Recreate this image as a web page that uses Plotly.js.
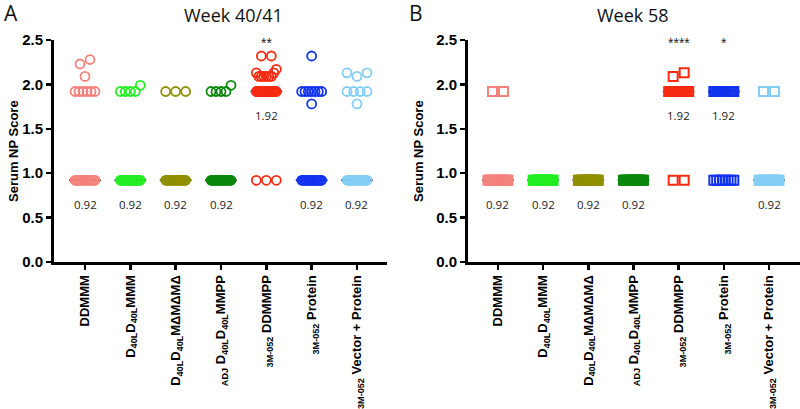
<!DOCTYPE html>
<html>
<head>
<meta charset="utf-8">
<script src="https://cdn.plot.ly/plotly-3.0.1.min.js"></script>
<style>html,body{margin:0;padding:0;background:#fff;}#chart{width:800px;height:409px;}</style>
</head>
<body>
<div id="chart"></div>
<script>
// ---------- data ----------
const categories = [
  'DDMMM',
  'D<sub>40L</sub>D<sub>40L</sub>MMM',
  'D<sub>40L</sub>D<sub>40L</sub>MΔMΔMΔ',
  '<sub>ADJ</sub> D<sub>40L</sub>D<sub>40L</sub>MMPP',
  '<sub>3M-052</sub> DDMMPP',
  '<sub>3M-052</sub> Protein',
  '<sub>3M-052</sub> Vector + Protein'
];
const groupColors = ['#F4827C', '#22EE22', '#8F8F00', '#0B870B', '#F52A10', '#1133EE', '#84CDF5'];

// Panel A: Week 40/41
const weekA_DDMMM = [0.92,0.92,0.92,0.92,0.92,0.92,0.92,0.92,0.92,0.92,0.92,0.92,0.92,0.92, 1.92,1.92,1.92,1.92,1.92,1.92, 2.09, 2.23, 2.28];
const weekA_D40LMMM = [0.92,0.92,0.92,0.92,0.92,0.92,0.92,0.92,0.92,0.92,0.92,0.92,0.92,0.92,0.92,0.92, 1.92,1.92,1.92,1.92, 1.99];
const weekA_D40LMdelta = [0.92,0.92,0.92,0.92,0.92,0.92,0.92,0.92,0.92,0.92,0.92,0.92,0.92,0.92,0.92,0.92, 1.92,1.92,1.92];
const weekA_ADJ = [0.92,0.92,0.92,0.92,0.92,0.92,0.92,0.92,0.92,0.92,0.92,0.92,0.92,0.92,0.92,0.92,0.92, 1.92,1.92,1.92,1.92, 1.99];
const weekA_DDMMPP = [0.92,0.92,0.92, 1.92,1.92,1.92,1.92,1.92,1.92,1.92,1.92,1.92,1.92,1.92,1.92,1.92,1.92,1.92,1.92,1.92,1.92, 2.09,2.09,2.09,2.09,2.09,2.09, 2.13,2.13, 2.17, 2.32,2.32];
const weekA_Protein = [0.92,0.92,0.92,0.92,0.92,0.92,0.92,0.92,0.92,0.92,0.92,0.92,0.92,0.92,0.92,0.92, 1.78, 1.92,1.92,1.92,1.92,1.92,1.92,1.92, 2.32];
const weekA_VectorProtein = [0.92,0.92,0.92,0.92,0.92,0.92,0.92,0.92,0.92,0.92,0.92,0.92,0.92,0.92,0.92, 1.78, 1.92,1.92,1.92,1.92, 2.09, 2.13,2.13];
const significanceA = ['', '', '', '', '**', '', ''];

// Panel B: Week 58
const weekB_DDMMM = [0.92,0.92,0.92,0.92,0.92,0.92,0.92,0.92,0.92,0.92,0.92,0.92,0.92,0.92,0.92, 1.92,1.92];
const weekB_D40LMMM = [0.92,0.92,0.92,0.92,0.92,0.92,0.92,0.92,0.92,0.92,0.92,0.92,0.92,0.92,0.92,0.92,0.92,0.92];
const weekB_D40LMdelta = [0.92,0.92,0.92,0.92,0.92,0.92,0.92,0.92,0.92,0.92,0.92,0.92,0.92,0.92,0.92,0.92];
const weekB_ADJ = [0.92,0.92,0.92,0.92,0.92,0.92,0.92,0.92,0.92,0.92,0.92,0.92,0.92,0.92,0.92,0.92,0.92,0.92];
const weekB_DDMMPP = [0.92,0.92, 1.92,1.92,1.92,1.92,1.92,1.92,1.92,1.92,1.92,1.92,1.92,1.92,1.92,1.92,1.92,1.92, 2.09, 2.13];
const weekB_Protein = [0.92,0.92,0.92,0.92,0.92,0.92,0.92,0.92, 1.92,1.92,1.92,1.92,1.92,1.92,1.92,1.92,1.92,1.92,1.92,1.92,1.92,1.92];
const weekB_VectorProtein = [0.92,0.92,0.92,0.92,0.92,0.92,0.92,0.92,0.92,0.92,0.92,0.92,0.92,0.92, 1.92,1.92];
const significanceB = ['', '', '', '', '****', '*', ''];

const groupsA = [weekA_DDMMM, weekA_D40LMMM, weekA_D40LMdelta, weekA_ADJ, weekA_DDMMPP, weekA_Protein, weekA_VectorProtein];
const groupsB = [weekB_DDMMM, weekB_D40LMMM, weekB_D40LMdelta, weekB_ADJ, weekB_DDMMPP, weekB_Protein, weekB_VectorProtein];

// ---------- layout geometry ----------
const W = 800, H = 409;
const domA = [54, 387], domB = [468, 800];
const rangeA = [-0.684, 6.662], rangeB = [-0.664, 6.686];
const yTopPx = 40, yBotPx = 262;
const yDomain = [(H - yBotPx) / H, (H - yTopPx) / H];
const unitA = (domA[1] - domA[0]) / (rangeA[1] - rangeA[0]);
const unitB = (domB[1] - domB[0]) / (rangeB[1] - rangeB[0]);

function median(arr) {
  const s = arr.slice().sort((a, b) => a - b);
  const n = s.length;
  return n % 2 ? s[(n - 1) / 2] : (s[n / 2 - 1] + s[n / 2]) / 2;
}

// scatter-dot spreading (pixel offsets) for points with similar values
function spreadOffsets(vals, spanPx, capPx) {
  const idx = vals.map((v, i) => i).sort((a, b) => vals[a] - vals[b]);
  const out = new Array(vals.length).fill(0);
  const clusters = [];
  let cur = [];
  idx.forEach((i, k) => {
    if (k > 0 && vals[i] - vals[idx[k - 1]] > 0.08) { clusters.push(cur); cur = []; }
    cur.push(i);
  });
  if (cur.length) clusters.push(cur);
  clusters.forEach(c => {
    const n = c.length;
    if (n === 1) { out[c[0]] = 0; return; }
    const s = Math.min(capPx, spanPx / (n - 1));
    const pos = [];
    if (n % 2) { pos.push(0); for (let j = 1; pos.length < n; j++) { pos.push(-j * s); if (pos.length < n) pos.push(j * s); } }
    else { for (let j = 0; pos.length < n; j++) { pos.push(-(j + 0.5) * s); if (pos.length < n) pos.push((j + 0.5) * s); } }
    c.forEach((i, k) => { out[i] = pos[k]; });
  });
  return out;
}

const traces = [];
const annotations = [];

function buildPanel(groups, sig, unitPx, xa, ya, symbol, msize, lw, cap) {
  groups.forEach((vals, g) => {
    const med = median(vals);
    traces.push({
      x: [g - 0.35, g + 0.35], y: [med, med], xaxis: xa, yaxis: ya,
      mode: 'lines', line: {color: '#000', width: 1.6}, hoverinfo: 'skip', cliponaxis: false
    });
    const offs = spreadOffsets(vals, 20, cap);
    traces.push({
      x: vals.map((v, i) => g + offs[i] / unitPx), y: vals, xaxis: xa, yaxis: ya,
      mode: 'markers', cliponaxis: false,
      marker: {symbol: symbol, size: msize, color: groupColors[g], line: {color: groupColors[g], width: lw}}
    });
    annotations.push({
      xref: xa, yref: ya, x: g, y: med, yshift: -24, xanchor: 'center', yanchor: 'middle',
      text: med.toFixed(2), showarrow: false,
      font: {family: 'Open Sans, Liberation Sans, sans-serif', size: 11.5, color: '#222'}
    });
    if (sig[g]) {
      annotations.push({
        xref: xa, yref: ya, x: g, y: 2.47, xanchor: 'center', yanchor: 'middle', text: sig[g], showarrow: false,
        font: {family: 'Liberation Sans, Arial, sans-serif', size: 14, color: '#222'}
      });
    }
  });
}

buildPanel(groupsA, significanceA, unitA, 'x', 'y', 'circle-open', 9, 1.8, 10);
buildPanel(groupsB, significanceB, unitB, 'x2', 'y2', 'square-open', 9, 2, 11);

function paperText(xpx, ypx, text, font, angle) {
  annotations.push({xref: 'paper', yref: 'paper', x: xpx / W, y: 1 - ypx / H, xanchor: 'center', yanchor: 'middle',
    text: text, showarrow: false, font: font, textangle: angle || 0});
}
const titleFont = {family: 'Open Sans, Liberation Sans, sans-serif', size: 18, color: '#111'};
paperText(233, 15, 'Week 40/41', titleFont);
paperText(633, 15, 'Week 58', titleFont);
const letterFont = {family: 'Open Sans, Liberation Sans, sans-serif', size: 21, color: '#111'};
paperText(11, 13, 'A', letterFont);
paperText(416, 13, 'B', letterFont);
const yTitleFont = {family: 'Liberation Sans, Arial, sans-serif', size: 13, color: '#000', weight: 'bold'};
paperText(13, 151, 'Serum NP Score', yTitleFont, -90);
paperText(418, 151, 'Serum NP Score', yTitleFont, -90);

function xAxis(dom, range, anchor) {
  return {
    domain: [dom[0] / W, dom[1] / W], range: range, anchor: anchor,
    tickmode: 'array', tickvals: categories.map((c, i) => i), ticktext: categories, tickangle: -90,
    showline: true, linewidth: 3, linecolor: '#000', ticks: 'outside', ticklen: 5, tickwidth: 2.5, tickcolor: '#000',
    tickfont: {family: 'Liberation Sans, Arial, sans-serif', size: 13, color: '#000', weight: 'bold'},
    showgrid: false, zeroline: false, fixedrange: true
  };
}
function yAxis(anchor) {
  return {
    domain: yDomain, range: [0, 2.5], anchor: anchor, tick0: 0, dtick: 0.5, tickformat: '.1f',
    showline: true, linewidth: 3, linecolor: '#000', ticks: 'outside', ticklen: 5, tickwidth: 2.5, tickcolor: '#000',
    tickfont: {family: 'Liberation Sans, Arial, sans-serif', size: 15, color: '#000', weight: 'bold'},
    showgrid: false, zeroline: false, fixedrange: true
  };
}

const layout = {
  width: W, height: H, margin: {l: 0, r: 0, t: 0, b: 0},
  paper_bgcolor: '#fff', plot_bgcolor: 'rgba(0,0,0,0)', showlegend: false,
  xaxis: xAxis(domA, rangeA, 'y'), yaxis: yAxis('x'),
  xaxis2: xAxis(domB, rangeB, 'y2'), yaxis2: yAxis('x2'),
  annotations: annotations
};

Plotly.newPlot('chart', traces, layout, {staticPlot: true, displayModeBar: false});
</script>
</body>
</html>
